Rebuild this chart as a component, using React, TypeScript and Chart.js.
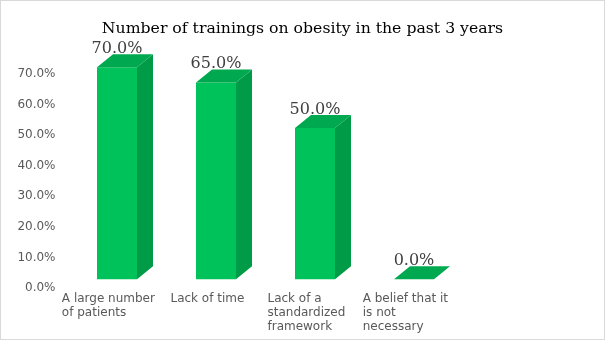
import React, { useEffect, useRef } from "react";
import { Chart, registerables } from "chart.js";

Chart.register(...registerables);

// ---- data ----
const TITLE = "Number of trainings on obesity in the past 3 years";
const CATEGORIES: string[][] = [
  ["A large number", "of patients"],
  ["Lack of time"],
  ["Lack of a", "standardized", "framework"],
  ["A belief that it", "is not", "necessary"],
];
const VALUES: number[] = [70, 65, 50, 0];
const Y_TICKS: number[] = [0, 10, 20, 30, 40, 50, 60, 70];

// ---- style ----
const FRONT = "#00C25A";
const TOP = "#00A94F";
const SIDE = "#009B46";
const DX = 16;
const DY = 13;
const LABEL_SHIFT = -8.6;
const TEXT_GRAY = "#595959";
const LABEL_GRAY = "#404040";

const depthPlugin = {
  id: "depth3d",
  afterDatasetsDraw(chart: any) {
    const meta = chart.getDatasetMeta(0);
    const ctx: CanvasRenderingContext2D = chart.ctx;
    ctx.save();
    meta.data.forEach((bar: any, i: number) => {
      const { x, y, base, width } = bar.getProps(["x", "y", "base", "width"], true);
      const l = x - width / 2;
      const r = x + width / 2;
      const top = Math.min(y, base);
      const bottom = Math.max(y, base);
      // side face
      if (bottom - top > 0.5) {
        ctx.fillStyle = SIDE;
        ctx.beginPath();
        ctx.moveTo(r, top);
        ctx.lineTo(r + DX, top - DY);
        ctx.lineTo(r + DX, bottom - DY);
        ctx.lineTo(r, bottom);
        ctx.closePath();
        ctx.fill();
      }
      // top face
      ctx.fillStyle = TOP;
      ctx.beginPath();
      ctx.moveTo(l, top);
      ctx.lineTo(l + DX, top - DY);
      ctx.lineTo(r + DX, top - DY);
      ctx.lineTo(r, top);
      ctx.closePath();
      ctx.fill();
      // value label
      ctx.fillStyle = LABEL_GRAY;
      ctx.font = '16px "DejaVu Serif"';
      ctx.textAlign = "center";
      ctx.textBaseline = "alphabetic";
      ctx.fillText(VALUES[i].toFixed(1) + "%", x, top - DY - 1);
    });
    ctx.restore();
  },
  afterDraw(chart: any) {
    const ctx: CanvasRenderingContext2D = chart.ctx;
    const xs = chart.scales.x;
    const bottom = chart.chartArea.bottom;
    ctx.save();
    ctx.font = '12px "DejaVu Sans"';
    ctx.fillStyle = TEXT_GRAY;
    ctx.textAlign = "left";
    ctx.textBaseline = "alphabetic";
    CATEGORIES.forEach((lines, i) => {
      const cx = xs.getPixelForValue(i) + LABEL_SHIFT;
      const w = Math.max(...lines.map((t) => ctx.measureText(t).width));
      const left = cx - w / 2;
      lines.forEach((t, k) => {
        ctx.fillText(t, left, bottom + 14 + 14 * k);
      });
    });
    ctx.restore();
  },
};

export default function App() {
  const canvasRef = useRef<HTMLCanvasElement | null>(null);

  useEffect(() => {
    if (!canvasRef.current) return;
    Chart.defaults.font.family = '"DejaVu Sans"';
    const chart = new Chart(canvasRef.current, {
      type: "bar",
      data: {
        labels: CATEGORIES,
        datasets: [
          {
            data: VALUES,
            backgroundColor: FRONT,
            borderWidth: 0,
            barPercentage: 0.404,
            categoryPercentage: 1,
            yAxisID: "yBar",
            clip: false as any,
          },
        ],
      },
      options: {
        animation: false,
        responsive: true,
        maintainAspectRatio: false,
        events: [],
        layout: { padding: 0 },
        plugins: {
          legend: { display: false },
          tooltip: { enabled: false },
          title: {
            display: true,
            text: TITLE,
            color: "#000000",
            font: { family: '"DejaVu Serif"', size: 15.7, weight: "normal" },
            padding: { top: 18.4, bottom: 35.8 },
          },
        },
        scales: {
          x: {
            grid: { display: false, drawTicks: false },
            border: { display: false },
            ticks: { display: false },
            afterFit: (s: any) => {
              s.height = 51;
            },
          },
          y: {
            min: 0,
            max: 70,
            grid: { display: false, drawTicks: false },
            border: { display: false },
            afterBuildTicks: (scale: any) => {
              scale.ticks = Y_TICKS.map((v) => ({ value: v }));
            },
            afterFit: (s: any) => {
              s.width = 66.5;
            },
            ticks: {
              color: TEXT_GRAY,
              font: { size: 12 },
              padding: 12,
              callback: (v: any) => Number(v).toFixed(1) + "%",
            },
          },
          yBar: {
            position: "right",
            min: -2.87,
            max: 67.79,
            grid: { display: false, drawTicks: false },
            border: { display: false },
            ticks: { display: false },
            afterFit: (s: any) => {
              s.width = 140.5;
            },
          },
        },
      },
      plugins: [depthPlugin],
    });
    return () => chart.destroy();
  }, []);

  return (
    <div
      style={{
        position: "fixed",
        left: 0,
        top: 0,
        width: 605,
        height: 340,
        boxSizing: "border-box",
        border: "1px solid #d9d9d9",
        background: "#ffffff",
      }}
    >
      <canvas ref={canvasRef} />
    </div>
  );
}
